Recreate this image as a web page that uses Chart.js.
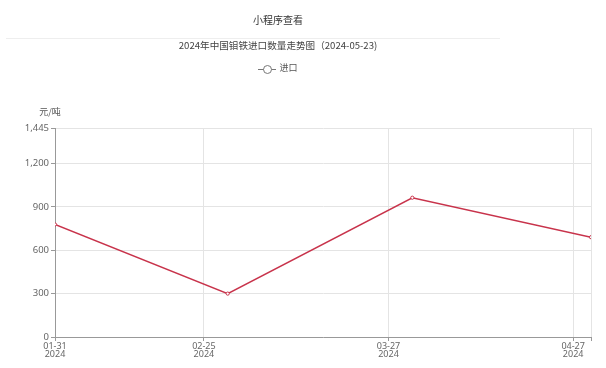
<!DOCTYPE html>
<html>
<head>
<meta charset="utf-8">
<script src="https://cdn.jsdelivr.net/npm/chart.js@4.4.1/dist/chart.umd.min.js"></script>
<style>
  html, body { margin: 0; padding: 0; background: #fff; }
  body { width: 606px; height: 368px; position: relative; overflow: hidden;
         font-family: "Noto Sans CJK SC", "Noto Sans", sans-serif; }
  .head { position: absolute; left: 0; width: 556px; text-align: center; color: #333; line-height: 1; }
  #top { top: 15px; font-size: 10px; }
  #rule { position: absolute; left: 6px; width: 494px; top: 38px; border-top: 1px solid #eee; }
  #sub { top: 41px; font-size: 9.6px; color: #444; }
  #legend { top: 63px; font-size: 9px; color: #555; }
  #legend .icon { display: inline-block; position: relative; width: 18px; height: 10px; vertical-align: middle; margin-right: 3px; }
  #legend .icon::before { content: ""; position: absolute; left: 0; right: 0; top: 5px; border-top: 1px solid #777; }
  #legend .icon::after { content: ""; position: absolute; left: 5px; top: 1px; width: 7px; height: 7px;
                         border: 1px solid #777; border-radius: 50%; background: #fff; }
  #wrap { position: absolute; left: 0; top: 0; width: 606px; height: 368px; }
</style>
</head>
<body>
<div id="wrap"><canvas id="chart" width="606" height="368"></canvas></div>
<div class="head" id="top">小程序查看</div>
<div id="rule"></div>
<div class="head" id="sub">2024年中国钼铁进口数量走势图（2024-05-23)</div>
<div class="head" id="legend"><span class="icon"></span><span id="legendText"></span></div>
<script>
const dates = ["2024-01-31", "2024-02-29", "2024-03-31", "2024-04-30"];
const imports = [778, 300, 963, 690];
const xTickDates = ["2024-01-31", "2024-02-25", "2024-03-27", "2024-04-27"];
const yTicks = [0, 300, 600, 900, 1200, 1445];
const seriesName = "进口";
const unitLabel = "元/吨";

const DAY = 86400000;
const base = Date.parse(dates[0]);
const dayOf = (d) => Math.round((Date.parse(d) - base) / DAY);
const lineColor = "#c8334b";

document.getElementById("legendText").textContent = seriesName;

const unitTitle = {
  id: "unitTitle",
  afterDraw(chart) {
    const { ctx, chartArea } = chart;
    ctx.save();
    ctx.font = "9px 'Noto Sans CJK SC'";
    ctx.fillStyle = "#555";
    ctx.textAlign = "center";
    ctx.textBaseline = "middle";
    ctx.fillText(unitLabel, chartArea.left - 5, chartArea.top - 16);
    ctx.restore();
  }
};

new Chart(document.getElementById("chart"), {
  type: "line",
  data: {
    datasets: [{
      label: seriesName,
      data: dates.map((d, i) => ({ x: dayOf(d), y: imports[i] })),
      borderColor: lineColor,
      backgroundColor: "#fff",
      borderWidth: 1.5,
      pointRadius: 1.6,
      pointBorderWidth: 1,
      pointBackgroundColor: "#fff",
      pointBorderColor: lineColor,
      tension: 0
    }]
  },
  options: {
    responsive: false,
    animation: false,
    layout: { padding: { top: 128, left: 0, right: 15, bottom: 0 } },
    plugins: {
      legend: { display: false },
      tooltip: { enabled: false }
    },
    scales: {
      x: {
        type: "linear",
        min: dayOf(dates[0]),
        max: dayOf(dates[dates.length - 1]),
        afterBuildTicks(scale) {
          scale.ticks = xTickDates.map((d) => ({ value: dayOf(d) }))
            .concat([{ value: dayOf(dates[dates.length - 1]) }]);
        },
        afterFit(scale) { scale.height = 31; },
        grid: { color: "#e4e4e4", tickLength: 4, tickColor: "#999" },
        border: { color: "#999" },
        ticks: {
          maxRotation: 0,
          autoSkip: false,
          padding: 1,
          color: "#666",
          font: { size: 9, family: "'Noto Sans'", lineHeight: 0.95 },
          callback(value) {
            const d = xTickDates.find((s) => dayOf(s) === value);
            return d ? [d.slice(5), d.slice(0, 4)] : "";
          }
        }
      },
      y: {
        min: 0,
        max: yTicks[yTicks.length - 1],
        afterBuildTicks(scale) { scale.ticks = yTicks.map((v) => ({ value: v })); },
        afterFit(scale) { scale.width = 55; },
        grid: { color: "#e4e4e4", tickLength: 4, tickColor: "#999" },
        border: { color: "#999" },
        ticks: {
          padding: 2,
          color: "#666",
          font: { size: 9.5, family: "'Noto Sans'" },
          callback: (v) => v.toLocaleString("en-US")
        }
      }
    }
  },
  plugins: [unitTitle]
});
</script>
</body>
</html>
